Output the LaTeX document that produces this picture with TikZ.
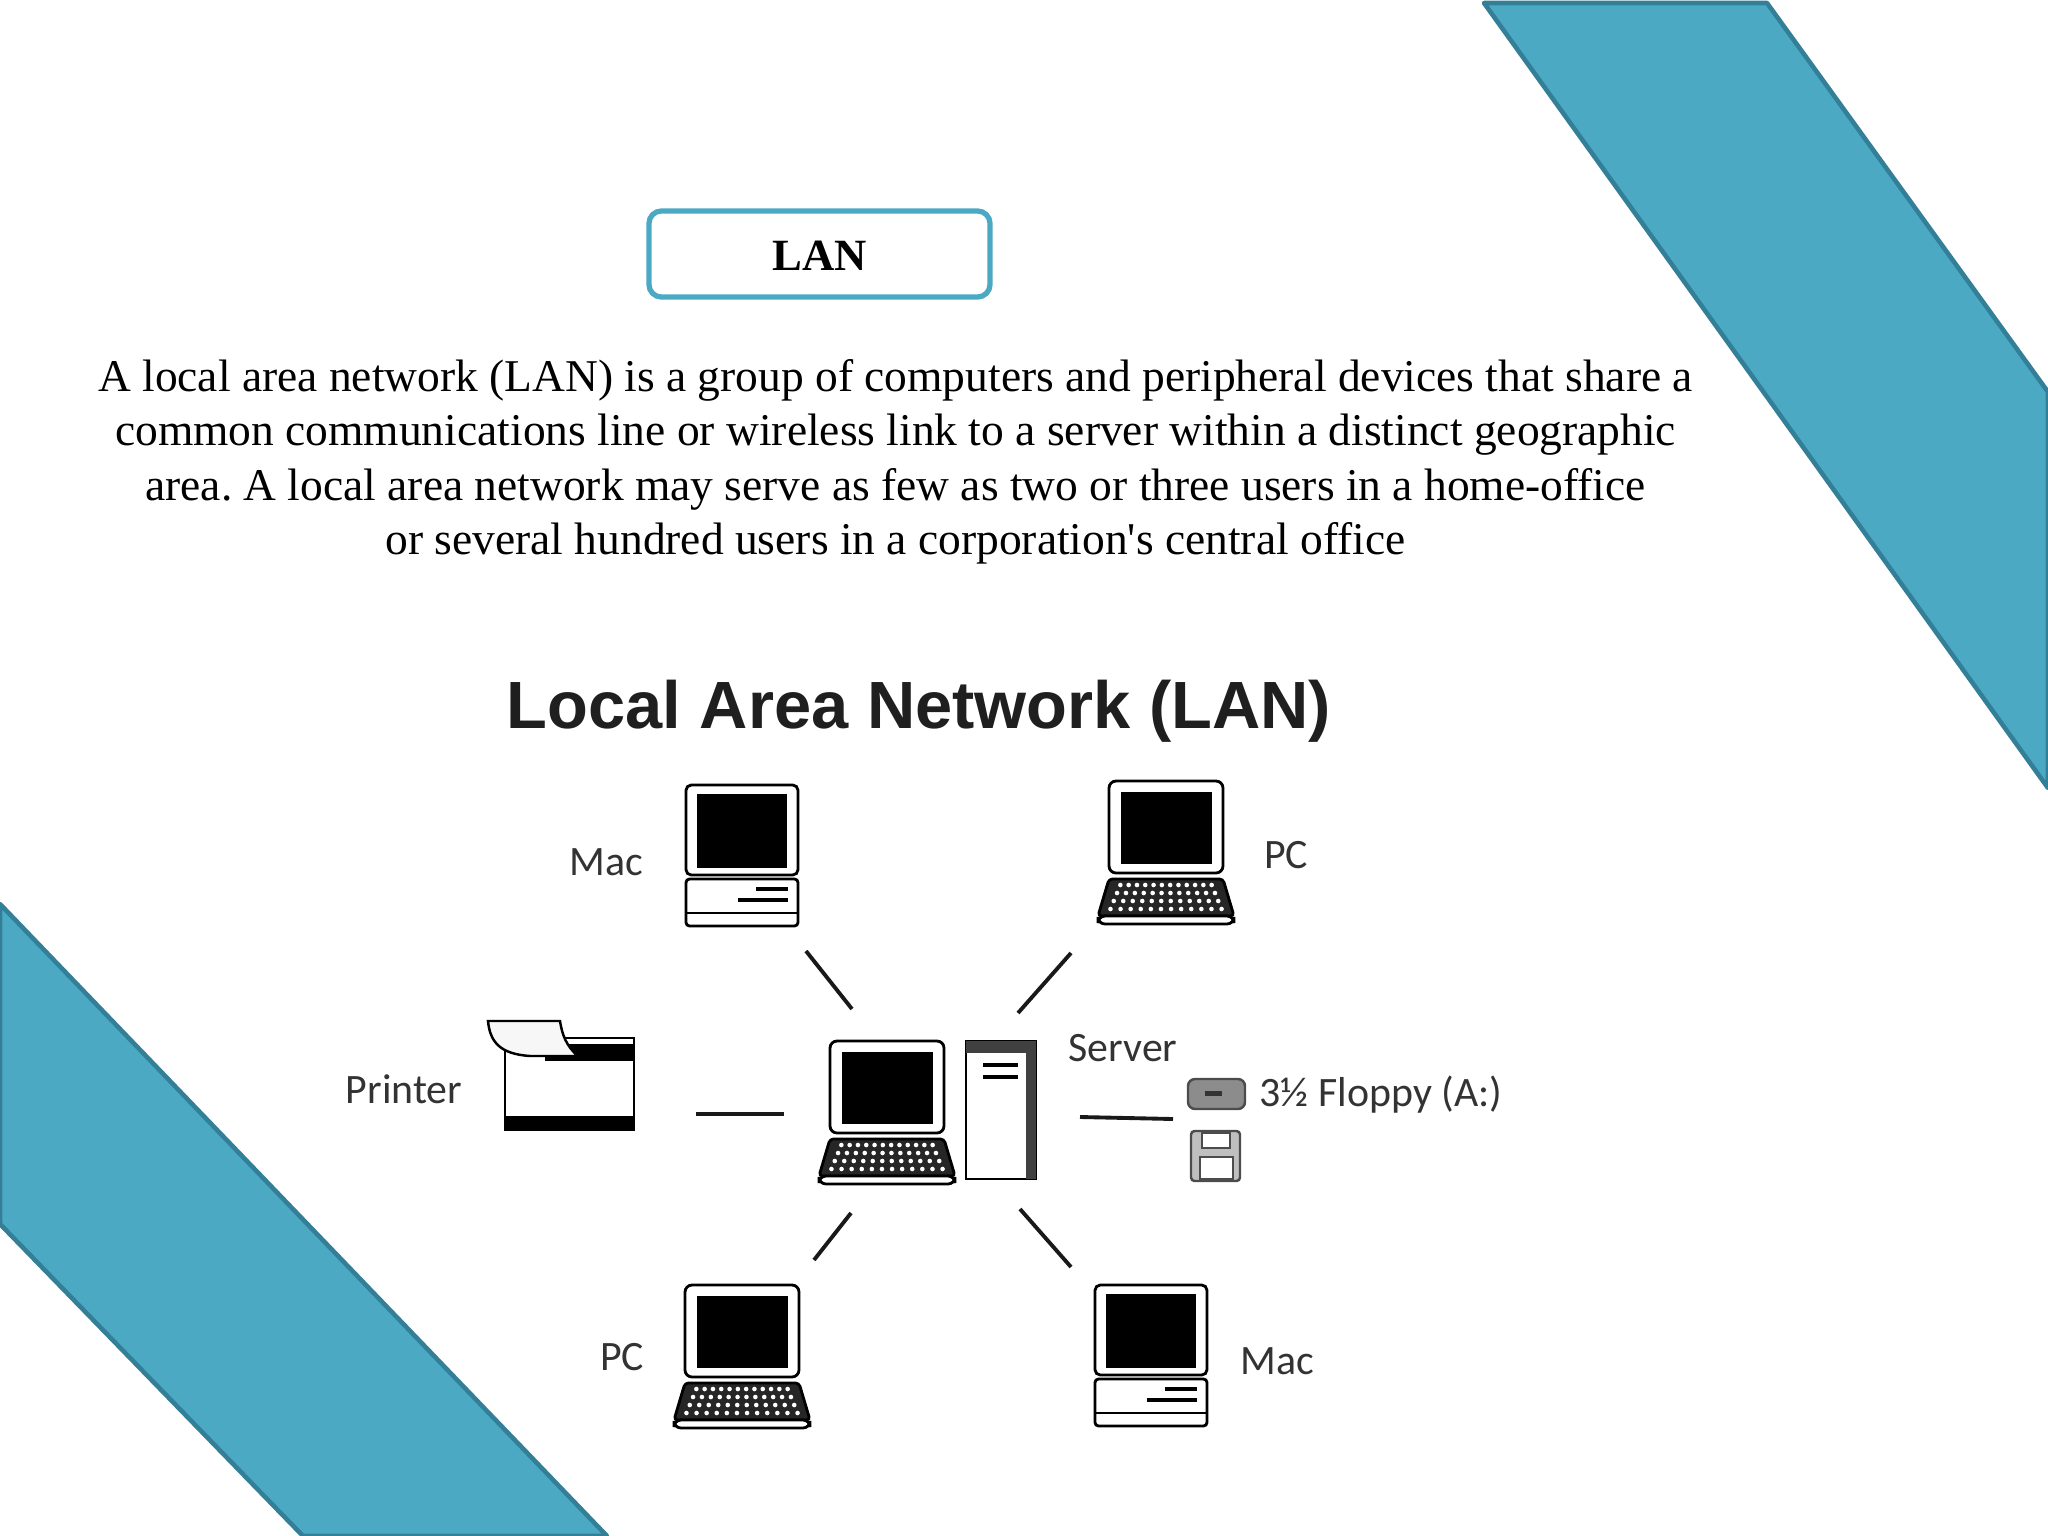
\documentclass[tikz,border=0pt]{standalone}
\usepackage{fontspec}
\setmainfont{Liberation Serif}
\newfontfamily\parafont{Liberation Serif}
\newfontfamily\titlefont{Liberation Sans}
\newfontfamily\labelfont{Carlito}
\usepackage{tikz}
\definecolor{bandfill}{HTML}{4BA9C4}
\definecolor{banddraw}{HTML}{347F98}
\definecolor{boxdraw}{HTML}{4BA9C4}
\definecolor{labelgray}{HTML}{333333}
\frenchspacing
\tikzset{
  band/.style={fill=bandfill, draw=banddraw, line width=1.3pt, line join=round},
  lanbox/.style={draw=boxdraw, line width=1.5pt, rounded corners=3.6pt, minimum width=97pt, minimum height=24.5pt, inner sep=0pt, font=\fontsize{12.7}{15}\selectfont\bfseries},
  para/.style={align=center, inner sep=0pt, font=\fontsize{12.93}{15.5}\parafont},
  title/.style={inner sep=0pt, text=black!88, font=\fontsize{19}{22}\titlefont\bfseries},
  devlabel/.style={inner sep=0pt, text=labelgray, font=\fontsize{11.9}{14}\labelfont},
  wire/.style={line width=1.1pt, black!90},
  icon/.style={draw=black, line width=0.8pt, fill=white},
  mac/.pic={
    \draw[icon, rounded corners=1.5pt] (0,0) rectangle (112,90);
    \fill[black] (11,9) rectangle (101,83);
    \draw[icon, rounded corners=1pt] (0,94) rectangle (112,141);
    \draw[line width=0.7pt] (0,128) -- (112,128);
    \draw[line width=1.1pt] (70,104) -- (102,104);
    \draw[line width=1.3pt] (52,115) -- (102,115);
  },
  laptop/.pic={
    \draw[icon, rounded corners=2pt] (11,0) rectangle (125,92);
    \fill[black] (23,11) rectangle (114,83);
    \draw[fill=black!85, line width=0.8pt, rounded corners=1pt] (11,98) -- (125,98) -- (136,135) -- (0,135) -- cycle;
    \foreach \r in {0,...,3}
      \foreach \c in {0,...,11}
        \fill[white] ({68+(\c-5.5)*(8.3+\r*0.6)},{104+\r*8}) circle (2.3);
    \draw[icon, rounded corners=2pt] (0,135) rectangle (136,143);
  },
}
\begin{document}
\begin{tikzpicture}[x=0.01cm, y=-0.01cm]
  \useasboundingbox (0,0) rectangle (2048,1536);
  % bands
  \draw[band] (1484,3) -- (1767,3) -- (2048,392) -- (2048,788) -- cycle;
  \draw[band] (0,904) -- (607,1536) -- (303,1536) -- (0,1224) -- cycle;
  % text
  \node[lanbox] (lan) at (819.5,254) {\raisebox{-4.8pt}[0pt][0pt]{LAN}};
  \node[para] (intro) at (895.5,462) {A local area network (LAN) is a group of computers and peripheral devices that share a\\
    common communications line or wireless link to a server within a distinct geographic\\
    area. A local area network may serve as few as two or three users in a home-office\\
    or several hundred users in a corporation's central office};
  \node[title] (nettitle) at (919,711) {Local Area Network (LAN)};
  % devices
  \pic (mactop) at (686,785) {mac};
  \pic (pctop) at (1098,781) {laptop};
  \pic (pcserver) at (819,1041) {laptop};
  \pic (pcbot) at (674,1285) {laptop};
  \pic (macbot) at (1095,1285) {mac};
  % server tower
  \draw[icon] (966,1041) rectangle (1036,1179);
  \fill[black!75] (1026,1041) rectangle (1036,1179);
  \fill[black!75] (966,1041) rectangle (1036,1053);
  \draw[line width=1pt] (983,1065) -- (1018,1065) (983,1077) -- (1018,1077);
  % printer
  \draw[icon] (505,1038) rectangle (634,1130);
  \fill[black] (545,1044) rectangle (634,1061);
  \fill[black] (505,1116) rectangle (634,1130);
  \draw[icon, fill=black!3, line width=0.7pt] (488,1021) -- (560,1021) .. controls (562,1034) and (566,1046) .. (578,1056) -- (530,1056) .. controls (500,1054) and (490,1042) .. (488,1021) -- cycle;
  % drive and disk
  \draw[draw=black!70, fill=black!45, line width=0.7pt, rounded corners=2pt] (1188,1079) rectangle (1245,1109);
  \fill[black!80] (1205,1091) rectangle (1222,1096);
  \draw[draw=black!70, fill=black!25, line width=0.7pt, rounded corners=1pt] (1191,1131) rectangle (1240,1181);
  \draw[draw=black!70, fill=white, line width=0.5pt] (1202,1133) rectangle (1230,1148);
  \draw[draw=black!70, fill=white, line width=0.5pt] (1200,1157) rectangle (1233,1179);
  % labels
  \node[devlabel] (macl1) at (606,862) {Mac};
  \node[devlabel] (pcl1) at (1286,855) {PC};
  \node[devlabel] (printerl) at (404,1089) {Printer};
  \node[devlabel] (serverl) at (1123,1048) {Server};
  \node[devlabel] (floppyl) at (1381,1095) {3½ Floppy (A:)};
  \node[devlabel] (pcl2) at (622,1357) {PC};
  \node[devlabel] (macl2) at (1277,1361) {Mac};
  % short lines
  \coordinate (a1) at (806,951);  \coordinate (a2) at (852,1009);
  \coordinate (b1) at (1071,953); \coordinate (b2) at (1018,1013);
  \coordinate (c1) at (696,1114); \coordinate (c2) at (784,1114);
  \coordinate (d1) at (1080,1117);\coordinate (d2) at (1173,1119);
  \coordinate (e1) at (851,1213); \coordinate (e2) at (814,1260);
  \coordinate (f1) at (1020,1209);\coordinate (f2) at (1071,1267);
  \path[wire]
  (a1) edge (a2)
  (b1) edge (b2)
  (c1) edge (c2)
  (d1) edge (d2)
  (e1) edge (e2)
  (f1) edge (f2)
  ;
\end{tikzpicture}
\end{document}
